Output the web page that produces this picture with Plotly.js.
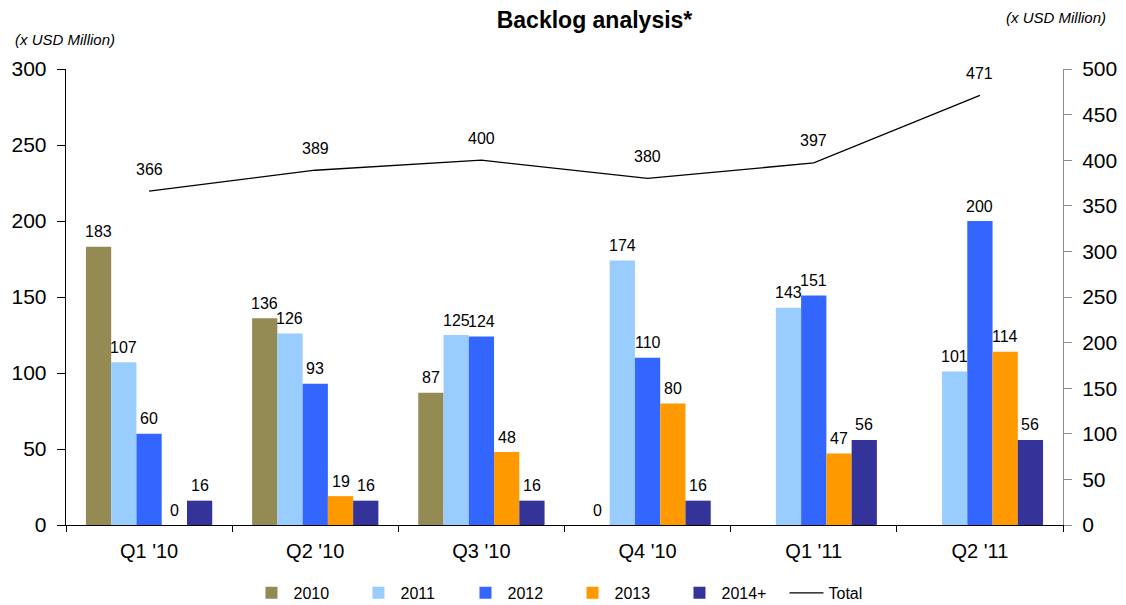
<!DOCTYPE html>
<html>
<head>
<meta charset="utf-8">
<script src="https://cdn.plot.ly/plotly-3.0.1.min.js"></script>
<style>
  html, body { margin: 0; padding: 0; background: #ffffff; }
  #chart { width: 1126px; height: 605px; }
</style>
</head>
<body>
<div id="chart"></div>
<script>
// Quarters on the x axis
const quarters = ["Q1 '10", "Q2 '10", "Q3 '10", "Q4 '10", "Q1 '11", "Q2 '11"];

// Backlog by delivery year (x USD Million); null = no bar
const backlog2010  = [183, 136, 87, 0, null, null];
const backlog2011  = [107, 126, 125, 174, 143, 101];
const backlog2012  = [60, 93, 124, 110, 151, 200];
const backlog2013  = [0, 19, 48, 80, 47, 114];
const backlog2014p = [16, 16, 16, 16, 56, 56];

// Total backlog (right axis)
const totalBacklog = [366, 389, 400, 380, 397, 471];

const seriesNames  = ["2010", "2011", "2012", "2013", "2014+"];
const seriesValues = [backlog2010, backlog2011, backlog2012, backlog2013, backlog2014p];
const seriesColors = ["#948A54", "#99CCFF", "#3366FF", "#FF9900", "#333399"];

const FONT = "Liberation Sans, Arial, sans-serif";
const BARGAP = 0.24;
const barWidth = (1 - BARGAP) / seriesNames.length;

const traces = seriesNames.map((name, k) => ({
  type: "bar",
  name: name,
  x: quarters,
  y: seriesValues[k],
  marker: { color: seriesColors[k], line: { width: 0 } },
  hoverinfo: "x+y+name"
}));

traces.push({
  type: "scatter",
  mode: "lines",
  name: "Total",
  x: quarters,
  y: totalBacklog,
  yaxis: "y2",
  line: { color: "#000000", width: 1.3 }
});

// Value labels above every bar and above the total line
const annotations = [];
seriesValues.forEach((vals, k) => {
  vals.forEach((v, i) => {
    if (v === null) return;
    annotations.push({
      x: i + (k - (seriesNames.length - 1) / 2) * barWidth,
      y: v, xref: "x", yref: "y",
      text: String(v), showarrow: false,
      xanchor: "center", yanchor: "middle", yshift: 15,
      font: { family: FONT, size: 16, color: "#000000" }
    });
  });
});
totalBacklog.forEach((v, i) => {
  annotations.push({
    x: i, y: v, xref: "x", yref: "y2",
    text: String(v), showarrow: false,
    xanchor: "center", yanchor: "middle", yshift: 22,
    font: { family: FONT, size: 16, color: "#000000" }
  });
});

// Unit captions for both value axes
annotations.push({
  xref: "paper", yref: "paper", x: -0.053, y: 1.064,
  xanchor: "left", yanchor: "middle", showarrow: false,
  text: "<i>(x USD Million)</i>",
  font: { family: FONT, size: 15, color: "#000000" }
});
annotations.push({
  xref: "paper", yref: "paper", x: 1.045, y: 1.112,
  xanchor: "right", yanchor: "middle", showarrow: false,
  text: "<i>(x USD Million)</i>",
  font: { family: FONT, size: 15, color: "#000000" }
});

const layout = {
  width: 1126,
  height: 605,
  margin: { l: 66, r: 63, t: 69, b: 80, pad: 0, autoexpand: false },
  paper_bgcolor: "#ffffff",
  plot_bgcolor: "#ffffff",
  font: { family: FONT, color: "#000000" },
  title: {
    text: "<b>Backlog analysis*</b>",
    x: 0.528, xref: "container", xanchor: "center",
    y: 0.967, yref: "container", yanchor: "middle",
    font: { family: FONT, size: 23, color: "#000000" }
  },
  barmode: "group",
  bargap: BARGAP,
  bargroupgap: 0,
  xaxis: {
    type: "category",
    showline: true, linecolor: "#000000", linewidth: 1.3,
    ticks: "outside", tickson: "boundaries", ticklen: 6,
    tickcolor: "#000000", tickwidth: 1,
    showgrid: false, zeroline: false,
    tickfont: { family: FONT, size: 20, color: "#000000" },
    ticklabelstandoff: 8
  },
  yaxis: {
    range: [0, 300],
    tickvals: [0, 50, 100, 150, 200, 250, 300],
    showline: true, linecolor: "#000000", linewidth: 1.3,
    ticks: "outside", ticklen: 8, tickcolor: "#000000", tickwidth: 1,
    showgrid: false, zeroline: false,
    tickfont: { family: FONT, size: 21, color: "#000000" },
    ticklabelstandoff: 6
  },
  yaxis2: {
    range: [0, 500],
    tickvals: [0, 50, 100, 150, 200, 250, 300, 350, 400, 450, 500],
    overlaying: "y", side: "right",
    showline: true, linecolor: "#8C8C8C", linewidth: 1,
    ticks: "outside", ticklen: 8, tickcolor: "#8C8C8C", tickwidth: 1,
    showgrid: false, zeroline: false,
    tickfont: { family: FONT, size: 21, color: "#000000" },
    ticklabelstandoff: 6
  },
  showlegend: true,
  legend: {
    orientation: "h",
    x: 0.506, xanchor: "center",
    y: -0.149, yanchor: "middle",
    entrywidth: 58, entrywidthmode: "pixels",
    itemwidth: 34,
    traceorder: "normal",
    font: { family: FONT, size: 16, color: "#000000" },
    bgcolor: "rgba(0,0,0,0)"
  },
  annotations: annotations
};

Plotly.newPlot("chart", traces, layout, { displayModeBar: false, staticPlot: true });
</script>
</body>
</html>
